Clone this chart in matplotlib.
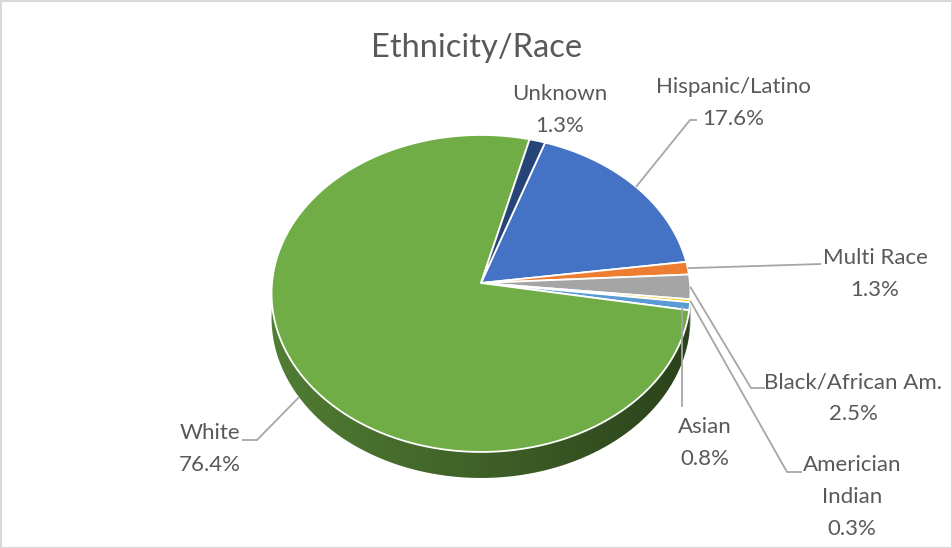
import numpy as np
import matplotlib
matplotlib.use("Agg")
import matplotlib.pyplot as plt
from matplotlib.patches import Polygon, Rectangle

# Data
categories = ["Hispanic/Latino", "Multi Race", "Black/African Am.", "Americian\nIndian",
              "Asian", "White", "Unknown"]
shares = [17.6, 1.3, 2.5, 0.3, 0.8, 76.4, 1.3]
pct_labels = ["17.6%", "1.3%", "2.5%", "0.3%", "0.8%", "76.4%", "1.3%"]
colors = ["#4472C4", "#ED7D31", "#A5A5A5", "#FFC000", "#5B9BD5", "#70AD47", "#264478"]

W, H = 953, 548
fig = plt.figure(figsize=(W / 100, H / 100), dpi=100)
ax = fig.add_axes([0, 0, 1, 1])
ax.axis("off")

FONT = ["Lato", "DejaVu Sans"]
TEXT_C = "#595959"
LINE_C = "#a6a6a6"

# Geometry of the tilted disc (pixel units), with a mild perspective
CX, CY = 481.0, 283.0
RX, RY = 209.0, 157.8
K = 0.066
DEPTH = 24.3
START = 19.0  # first slice starts this many degrees clockwise from 12 o'clock


def project(theta_deg, drop=0.0):
    t = np.radians(theta_deg)
    u, v = np.sin(t), np.cos(t)
    s = 1 + K * v
    return CX + RX * u / s, CY - RY * v / s + drop / s


vals = np.array(shares, dtype=float)
frac = vals / vals.sum()
bounds = START + 360 * np.concatenate([[0], np.cumsum(frac)])

# Side wall (front half of the rim) with a smooth left-to-right shading
for i in range(len(vals)):
    a, b = bounds[i], bounds[i + 1]
    for off in (0, 360):
        lo, hi = max(a, 90 + off), min(b, 270 + off)
        if hi <= lo:
            continue
        th = np.linspace(lo, hi, max(int(hi - lo) * 2, 4))
        top = [project(t) for t in th]
        bot = [project(t, DEPTH) for t in th[::-1]]
        poly = Polygon(top + bot, closed=True, facecolor="none",
                       edgecolor="none", zorder=1)
        ax.add_patch(poly)
        pts = np.array(top + bot)
        x0, x1 = pts[:, 0].min() - 1, pts[:, 0].max() + 1
        y0, y1 = pts[:, 1].min() - 1, pts[:, 1].max() + 1
        xs = np.linspace(x0, x1, 300)
        f = np.interp(xs, [CX - RX, CX, CX + RX], [0.72, 0.56, 0.38])
        base = np.array(matplotlib.colors.to_rgb(colors[i]))
        img = np.clip(base[None, None, :] * f[None, :, None], 0, 1)
        im = ax.imshow(img, extent=(x0, x1, y1, y0), aspect="auto",
                       interpolation="bilinear", zorder=1)
        im.set_clip_path(poly)

# Top faces of the slices
for i in range(len(vals)):
    a, b = bounds[i], bounds[i + 1]
    n = max(int((b - a) / 1.0), 2)
    th = np.linspace(a, b, n + 1)
    pts = [(CX, CY)] + [project(t) for t in th]
    ax.add_patch(Polygon(pts, closed=True, facecolor=colors[i],
                         edgecolor="white", linewidth=1.3, joinstyle="round",
                         zorder=2))

# Title
ax.text(477, 57, "Ethnicity/Race", ha="center", va="baseline", fontsize=23.5,
        color=TEXT_C, family=FONT)

# Data labels: text block centre, leader-line points on the label side,
# rim drop for the anchor, and whether the leader runs straight down
label_layout = {
    "Hispanic/Latino": ((733, 103), [(697, 120), (690, 120)], 0.0, False),
    "Multi Race": ((875, 274), [(821, 264)], 0.0, False),
    "Black/African Am.": ((853, 398), [(765, 388), (751, 388)], 0.0, False),
    "Americian\nIndian": ((852, 497), [(802, 472), (787, 472)], 0.0, False),
    "Asian": ((705, 443), [(682, 407)], 0.0, True),
    "White": ((210, 449), [(242, 440), (257, 440)], DEPTH, False),
    "Unknown": ((560, 110), [], 0.0, False),
}

for i, name in enumerate(categories):
    (tx, ty), path, drop, vertical = label_layout[name]
    ax.text(tx, ty, f"{name}\n{pct_labels[i]}", ha="center", va="center",
            fontsize=16, color=TEXT_C, family=FONT, linespacing=1.72, zorder=5)
    if path:
        mid = 0.5 * (bounds[i] + bounds[i + 1])
        anchor = project(mid, drop)
        if vertical:
            anchor = (path[-1][0], anchor[1])
        pts = list(path) + [anchor]
        xs, ys = zip(*pts)
        ax.plot(xs, ys, color=LINE_C, linewidth=1.3, zorder=4,
                solid_capstyle="butt")

# Chart frame
ax.add_patch(Rectangle((0.5, 0.5), W - 1, H - 1, fill=False,
                       edgecolor="#d9d9d9", linewidth=1.5, zorder=6))

ax.set_xlim(0, W)
ax.set_ylim(H, 0)
ax.set_aspect("auto")

fig.savefig("out.png", dpi=100)
